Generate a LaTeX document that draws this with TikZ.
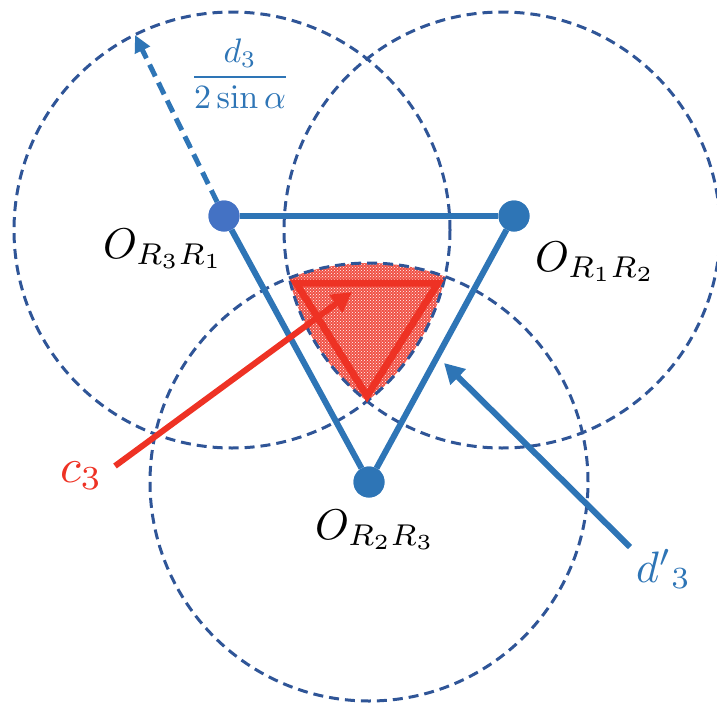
\documentclass[tikz,border=0pt]{standalone}
\usepackage{graphicx}
\usetikzlibrary{arrows.meta,patterns}
\definecolor{mblue}{HTML}{2E75B6}
\definecolor{dotblue}{HTML}{4472C4}
\definecolor{navy}{HTML}{2F5597}
\definecolor{mred}{HTML}{EE3224}
\begin{document}
\begin{tikzpicture}[x=1pt,y=-1pt,
  circ/.style={navy, line width=3pt, dash pattern=on 10pt off 6pt},
  edge/.style={mblue, line width=6pt},
  dotnode/.style={circle, fill=#1, minimum size=31pt, inner sep=0pt},
  lbl/.style={inner sep=0pt, anchor=base west},
  redline/.style={mred, line width=7pt, line join=miter},
  pointer/.style={line width=6pt, -{Triangle[length=20pt,width=21pt]}},
  radarrow/.style={mblue, line width=5pt, dash pattern=on 13pt off 7pt, -{Triangle[length=17pt,width=16pt]}}
]
\useasboundingbox (0,0) rectangle (717,704);
\coordinate (C1) at (232,230);
\coordinate (C2) at (502,230);
\coordinate (C3) at (369,482);
% shaded intersection region
\begin{scope}
  \clip (C1) circle[radius=218pt];
  \clip (C2) circle[radius=218pt];
  \fill[mred!85!white] (C3) circle[radius=219pt];
  \fill[pattern=crosshatch dots, pattern color=white] (C3) circle[radius=219pt];
\end{scope}
% dashed circles
\draw[circ] (C1) circle[radius=218pt];
\draw[circ] (C2) circle[radius=218pt];
\draw[circ] (C3) circle[radius=219pt];
% centres
\node[dotnode=dotblue] (O1) at (224,216) {};
\node[dotnode=mblue] (O2) at (514,216) {};
\node[dotnode=mblue] (O3) at (369,482) {};
\draw[edge] (O1) -- (O2);
\draw[edge] (O1) -- (O3);
\draw[edge] (O2) -- (O3);
% radius arrow
\coordinate (rtip) at (135,35);
\draw[radarrow] (O1) -- (rtip);
\node[text=mblue] (frac) at (240,74) {\scalebox{3.4}{$\displaystyle\frac{d_3}{2\sin\alpha}$}};
% red triangle
\coordinate (T1) at (296,283);
\coordinate (T2) at (438,283);
\coordinate (T3) at (367,396);
\draw[redline] (T1) -- (T2) -- (T3) -- cycle;
% pointers
\coordinate (ctail) at (115,466);
\coordinate (ctip) at (352,292);
\draw[pointer, mred] (ctail) -- (ctip);
\coordinate (dtail) at (630,547);
\coordinate (dtip) at (444,363);
\draw[pointer, mblue] (dtail) -- (dtip);
% redraw dots on top
\node[dotnode=dotblue] at (O1) {};
\node[dotnode=mblue] at (O2) {};
\node[dotnode=mblue] at (O3) {};
% labels
\node[lbl] (L1) at (103,258) {\scalebox{4.3}{$O_{R_3R_1}$}};
\node[lbl] (L2) at (535,271) {\scalebox{4.3}{$O_{R_1R_2}$}};
\node[lbl] (L3) at (315,539) {\scalebox{4.3}{$O_{R_2R_3}$}};
\node[lbl, text=mred] (Lc) at (60,482) {\scalebox{4.8}{$c_3$}};
\node[lbl, text=mblue] (Ld) at (636,582) {\scalebox{4.4}{$d'{}_3$}};
\end{tikzpicture}
\end{document}
